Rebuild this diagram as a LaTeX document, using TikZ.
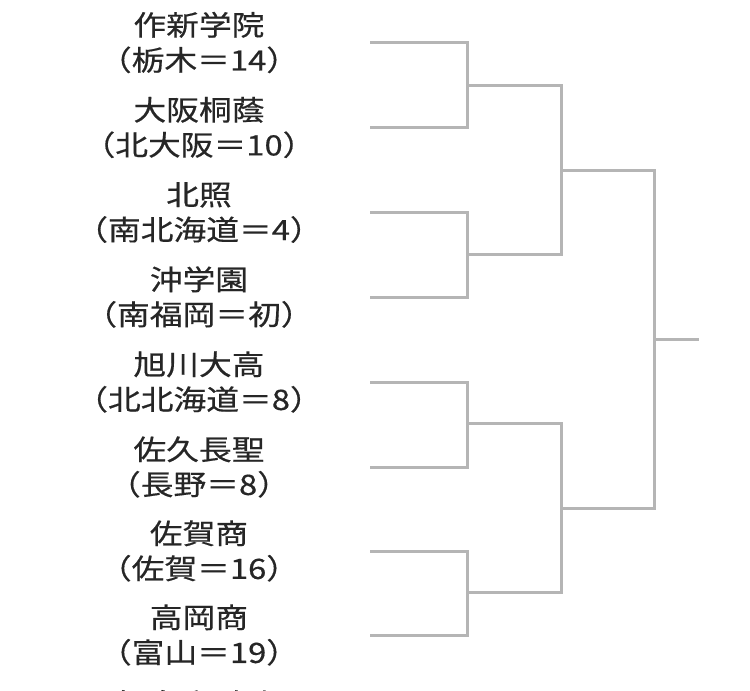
\documentclass[tikz,border=0pt]{standalone}
\usepackage{fontspec}
\newfontfamily\jpfont[FakeStretch=1.17,FakeBold=0.5]{Noto Sans CJK JP}
\usetikzlibrary{positioning}
\definecolor{linegray}{HTML}{B5B5B5}

\begin{document}
\begin{tikzpicture}[
    x=1pt, y=-1pt,
    team/.style={align=center, inner sep=0pt, text=black!85, font=\jpfont\fontsize{28}{35}\selectfont},
    bracket/.style={draw=linegray, line width=3pt}
]
\useasboundingbox (0,0) rectangle (750,691);
\clip (0,0) rectangle (750,691);

% teams
\node[team] (t1) at (199,42.5) {作新学院\\（栃木＝14）};
\node[team] (t2) at (199,127.5) {大阪桐蔭\\（北大阪＝10）};
\node[team] (t3) at (199,212.5) {北照\\（南北海道＝4）};
\node[team] (t4) at (199,297) {沖学園\\（南福岡＝初）};
\node[team] (t5) at (199,382) {旭川大高\\（北北海道＝8）};
\node[team] (t6) at (199,467) {佐久長聖\\（長野＝8）};
\node[team] (t7) at (199,551) {佐賀商\\（佐賀＝16）};
\node[team] (t8) at (199,635) {高岡商\\（富山＝19）};
\node[team] (t9) at (199,703) {智弁和歌山};

% first round ends
\coordinate (e1) at (370,42.5);
\coordinate (e2) at (370,127.5);
\coordinate (e3) at (370,212.5);
\coordinate (e4) at (370,297);
\coordinate (e5) at (370,382);
\coordinate (e6) at (370,467);
\coordinate (e7) at (370,551);
\coordinate (e8) at (370,635);

% joins
\coordinate (j1) at (467,85.5);
\coordinate (j2) at (467,254.5);
\coordinate (j3) at (467,423.5);
\coordinate (j4) at (467,592);
\coordinate (k1) at (561,170);
\coordinate (k2) at (561,508);
\coordinate (f) at (654,339);
\coordinate (w) at (699,339);

\draw[bracket] (e1) -| (j1) |- (e2);
\draw[bracket] (e3) -| (j2) |- (e4);
\draw[bracket] (e5) -| (j3) |- (e6);
\draw[bracket] (e7) -| (j4) |- (e8);
\draw[bracket] (j1) -| (k1) |- (j2);
\draw[bracket] (j3) -| (k2) |- (j4);
\draw[bracket] (k1) -| (f) |- (k2);
\draw[bracket] (f) -- (w);
\end{tikzpicture}
\end{document}
